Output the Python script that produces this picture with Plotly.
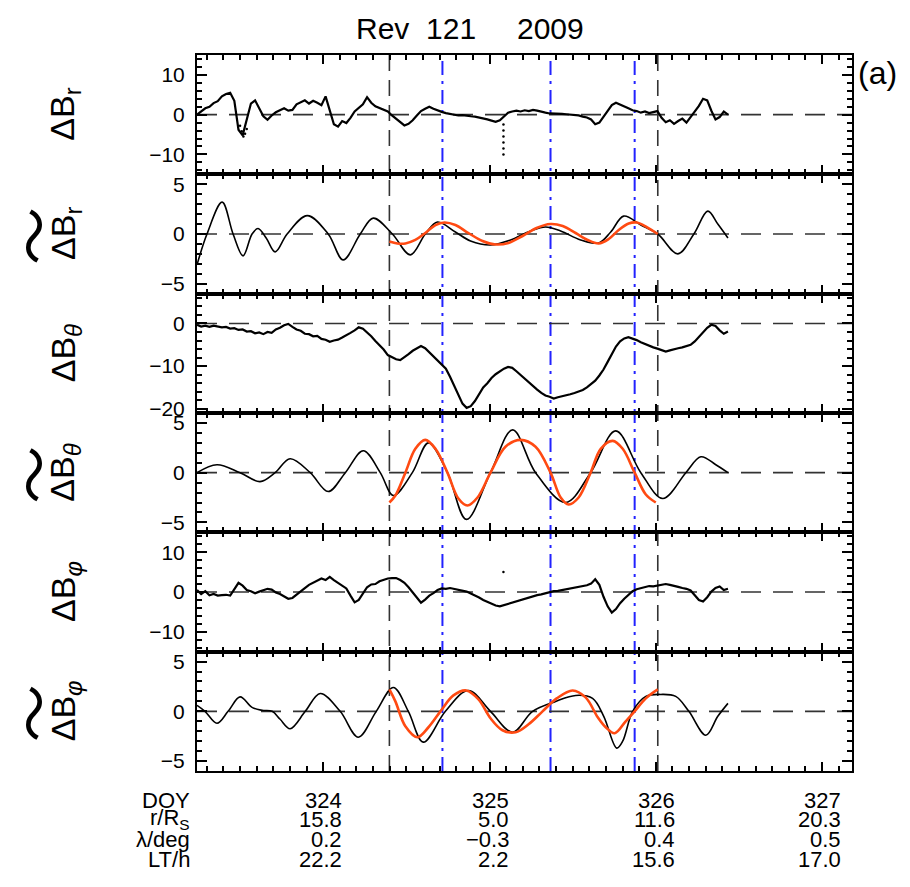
import numpy as np
import plotly.graph_objects as go
from plotly.subplots import make_subplots

# ---------------- data ----------------
x_range = [323.241, 327.18]
doy_ticks = [324, 325, 326, 327]
r_rs = ["15.8", "5.0", "11.6", "20.3"]
lat_deg = ["0.2", "\u22120.3", "0.4", "0.5"]
lt_h = ["22.2", "2.2", "15.6", "17.0"]

# observed (1-min) residual field, uniform time base
obs_start, obs_end, obs_n = 323.241, 326.434, 129
dBr_obs = [0.0, 0.8, 1.6, 2.0, 2.9, 3.4, 4.6, 5.2, 5.5, 3.5,
           -3.8, -5.2, -1.0, 2.8, 3.6, 1.4, -0.4, -1.3, -0.2, 0.6,
           1.2, 1.6, 1.0, 1.2, 2.6, 3.2, 3.6, 2.8, 3.5, 3.0,
           2.4, 4.6, 1.2, -2.4, -3.0, -1.6, -2.1, -0.8, 0.8, 1.6,
           2.6, 4.4, 3.0, 2.1, 1.7, 1.3, 0.8, -0.2, -1.1, -2.0,
           -2.7, -2.3, -1.4, -0.2, 0.9, 1.5, 2.0, 1.5, 1.0, 0.7,
           0.4, 0.2, 0.0, -0.2, -0.1, -0.3, -0.4, -0.5, -0.7, -0.9,
           -1.2, -1.5, -1.8, -1.4, -0.4, 0.5, 0.8, 1.0, 0.8, 1.1,
           0.9, 1.2, 1.0, 0.7, 0.5, 0.3, 0.3, 0.2, 0.2, 0.1,
           0.0, 0.0, -0.2, -0.5, -0.7, -1.2, -2.4, -2.0, -0.6, 0.8,
           2.4, 3.0, 2.6, 2.0, 1.6, 1.1, 0.9, 0.5, 0.8, 0.4,
           0.7, 0.9, -0.8, -1.9, -1.4, -2.3, -1.6, -1.0, -2.0, -0.6,
           0.8, 2.2, 4.0, 3.6, 1.0, -1.2, -0.6, 0.8, 0.0]
dBth_obs = [-0.3, -0.7, -0.5, -0.8, -0.5, -0.7, -0.9, -0.8, -1.2, -1.1,
            -1.5, -1.4, -1.9, -1.8, -2.3, -2.1, -2.5, -2.0, -2.2, -1.4,
            -1.0, -0.4, -0.1, -0.8, -1.4, -1.7, -2.4, -2.5, -3.0, -2.9,
            -3.6, -3.8, -4.3, -4.0, -3.8, -3.3, -2.8, -2.2, -1.6, -0.9,
            -1.2, -2.0, -3.0, -4.1, -5.0, -6.1, -7.4, -8.0, -8.4, -8.6,
            -8.0, -7.2, -6.4, -5.8, -5.3, -5.8, -6.8, -7.8, -8.6, -9.6,
            -10.6, -12.5, -14.6, -16.8, -18.8, -19.8, -19.4, -18.2, -16.5, -15.0,
            -14.0, -12.8, -11.9, -11.2, -10.6, -10.2, -10.4, -11.2, -12.1, -13.0,
            -13.8, -14.6, -15.5, -16.3, -16.9, -17.2, -17.6, -17.3, -17.1, -16.8,
            -16.6, -16.3, -16.0, -15.6, -15.0, -14.2, -13.4, -12.2, -10.8, -9.0,
            -7.2, -5.4, -4.2, -3.5, -3.2, -3.5, -3.9, -4.4, -4.8, -5.3,
            -5.6, -5.9, -6.3, -6.6, -6.3, -6.0, -5.8, -5.6, -5.3, -5.0,
            -4.2, -3.2, -2.2, -1.0, -0.3, -0.6, -1.6, -2.4, -1.9]
dBph_obs = [0.5, -0.5, 0.2, -0.8, -0.5, -0.9, -0.8, -0.7, -0.9, 0.6,
            2.3, 1.6, 0.5, 0.2, -0.3, 0.1, 0.5, 0.8, 0.6, -0.1,
            -0.5, -1.1, -1.7, -1.5, -0.6, 0.1, 1.0, 1.8, 2.4, 2.9,
            3.4, 3.0, 3.8, 3.0, 2.3, 1.7, 0.9, -0.9, -2.6, -2.0,
            -0.3, 1.2, 1.9, 2.0, 2.7, 3.1, 3.4, 3.5, 3.5, 3.0,
            2.3, 1.2, -0.2, -1.6, -2.7, -1.9, -0.9, -0.3, 0.5, 0.9,
            0.8, 1.0, 0.8, 0.5, 0.3, 0.1, -0.4, -0.8, -1.4, -2.0,
            -2.5, -3.0, -3.4, -3.6, -3.3, -2.9, -2.6, -2.3, -2.0, -1.6,
            -1.4, -1.1, -0.8, -0.6, -0.3, 0.0, 0.2, 0.3, 0.5, 0.8,
            1.0, 1.2, 1.4, 1.5, 1.7, 2.1, 3.2, 1.8, -1.2, -3.6,
            -5.2, -4.3, -2.8, -1.7, -0.8, 0.2, 0.7, 1.0, 1.3, 1.5,
            1.4, 1.6, 1.9, 2.0, 1.8, 1.6, 1.3, 1.0, 0.8, 0.4,
            -0.7, -2.0, -2.4, -1.3, 0.1, 1.0, 1.4, 0.5, 0.8]

# isolated scattered samples
spike_r_doy = [323.50, 323.51, 323.52, 323.53, 323.54, 325.084, 325.084, 325.084, 325.084, 325.084, 325.084]
spike_r_val = [-2.8, -4.2, -5.5, -4.8, -3.6, -2.5, -4.0, -5.5, -7.0, -8.5, -10.0]
spike_ph_doy = [325.084]
spike_ph_val = [5.0]

# band-pass filtered residuals (black)
filt_r_doy = [323.241, 323.301, 323.392, 323.458, 323.518, 323.572, 323.608, 323.657, 323.711, 323.783,
              323.904, 324.030, 324.120, 324.223, 324.301, 324.416, 324.524, 324.614, 324.687, 324.795,
              324.886, 325.006, 325.127, 325.247, 325.337, 325.428, 325.548, 325.657, 325.729, 325.807,
              325.910, 326.012, 326.133, 326.229, 326.313, 326.373, 326.434]
filt_r_val = [-3.1, 0.0, 3.2, 0.0, -2.2, 0.0, 0.55, -0.4, -1.8, 0.0,
              1.85, 0.0, -2.6, 0.0, 1.6, 0.0, -2.1, 0.0, 1.2, 0.2,
              -0.7, -1.1, -0.6, 0.3, 0.7, 0.3, -0.6, -0.9, 0.2, 1.8,
              0.9, 0.0, -2.0, 0.0, 2.3, 1.0, -0.4]
filt_th_doy = [323.241, 323.361, 323.500, 323.620, 323.711, 323.801, 323.922, 324.030, 324.133, 324.241,
               324.343, 324.422, 324.536, 324.633, 324.747, 324.861, 325.006, 325.139, 325.277, 325.458,
               325.608, 325.759, 325.910, 326.042, 326.181, 326.271, 326.361, 326.434]
filt_th_val = [0.0, 0.8, 0.0, -0.9, 0.0, 1.4, 0.0, -1.9, 0.0, 2.2,
               0.0, -2.3, 0.0, 3.0, 0.0, -4.7, 0.0, 4.3, 0.0, -3.0,
               0.0, 4.2, 0.0, -2.6, 0.0, 1.6, 0.8, 0.0]
filt_ph_doy = [323.241, 323.289, 323.361, 323.428, 323.500, 323.572, 323.633, 323.693, 323.741, 323.801,
               323.892, 323.982, 324.102, 324.211, 324.319, 324.422, 324.512, 324.602, 324.735, 324.873,
               325.006, 325.139, 325.259, 325.398, 325.518, 325.620, 325.687, 325.765, 325.801, 325.861,
               325.940, 326.030, 326.120, 326.199, 326.301, 326.373, 326.434]
filt_ph_val = [0.6, 0.0, -1.2, 0.0, 1.45, 0.4, 0.1, 0.0, -0.8, -1.75,
               0.0, 1.8, 0.0, -2.6, 0.0, 2.4, 0.0, -3.1, 0.0, 2.1,
               0.0, -2.1, 0.0, 1.0, 1.6, 1.3, -0.5, -3.7, -3.0, 0.0,
               1.5, 1.7, 1.5, 0.0, -2.4, -0.5, 0.8]

# model fits (red)
fit_r_doy = [324.398, 324.446, 324.494, 324.554, 324.614, 324.675, 324.729, 324.795, 324.873, 324.958,
             325.036, 325.114, 325.199, 325.283, 325.367, 325.440, 325.518, 325.590, 325.657, 325.717,
             325.777, 325.837, 325.886, 325.946, 326.012]
fit_r_val = [-0.75, -0.95, -0.95, -0.6, 0.1, 0.9, 1.15, 0.9, 0.1, -0.7,
             -1.05, -0.9, -0.2, 0.6, 1.0, 0.8, 0.1, -0.6, -0.95, -0.5,
             0.4, 1.05, 1.15, 0.7, 0.0]
fit_th_doy = [324.398, 324.434, 324.494, 324.554, 324.614, 324.675, 324.747, 324.813, 324.867, 324.928,
              325.006, 325.096, 325.187, 325.277, 325.367, 325.428, 325.476, 325.536, 325.608, 325.669,
              325.741, 325.801, 325.873, 325.940, 326.000]
fit_th_val = [-3.0, -2.3, 0.0, 2.4, 3.3, 2.4, 0.0, -2.6, -3.3, -2.5,
              0.0, 2.6, 3.3, 2.6, 0.0, -2.5, -3.2, -2.5, 0.0, 2.4,
              3.2, 2.4, 0.0, -2.2, -3.0]
fit_ph_doy = [324.398, 324.434, 324.494, 324.566, 324.633, 324.705, 324.783, 324.861, 324.934, 325.006,
              325.078, 325.157, 325.235, 325.319, 325.404, 325.500, 325.578, 325.651, 325.699, 325.753,
              325.819, 325.873, 325.940, 326.012]
fit_ph_val = [2.2, 1.0, -1.5, -2.6, -1.6, 0.0, 1.6, 2.1, 1.2, -0.7,
              -1.9, -2.1, -1.3, 0.0, 1.3, 2.1, 1.4, -0.6, -1.6, -2.2,
              -1.0, 0.0, 1.3, 2.2]

boundary_doy = [324.398, 326.012]
marker_doy = [324.717, 325.367, 325.873]

y_ranges = [[-15, 15], [-6, 6], [-21, 7], [-6, 6], [-15, 15], [-6, 6]]
y_major = [[-10, 0, 10], [-5, 0, 5], [-20, -10, 0], [-5, 0, 5], [-10, 0, 10], [-5, 0, 5]]
y_minor = [2, 1, 2, 1, 2, 1]
panel_labels = ["\u0394B<sub>r</sub>", "\u0394B<sub>r</sub>", "\u0394B<sub><i>\u03b8</i></sub>",
                "\u0394B<sub><i>\u03b8</i></sub>", "\u0394B<sub><i>\u03c6</i></sub>", "\u0394B<sub><i>\u03c6</i></sub>"]
panel_tilde = [False, True, False, True, False, True]

# ---------------- figure ----------------
FONT = "Liberation Sans, Arial, sans-serif"
NARROW = "Liberation Sans Narrow, Arial Narrow, Liberation Sans, sans-serif"
obs_doy = np.linspace(obs_start, obs_end, obs_n)

fig = make_subplots(rows=6, cols=1, shared_xaxes=True, vertical_spacing=0)

zero_style = dict(color="#333333", width=1.6, dash="20px,12px")
for row in range(1, 7):
    fig.add_trace(go.Scatter(x=x_range, y=[0, 0], mode="lines", line=zero_style,
                             hoverinfo="skip"), row=row, col=1)

obs_line = dict(color="black", width=2.2)
fig.add_trace(go.Scatter(x=obs_doy, y=dBr_obs, mode="lines", line=obs_line), row=1, col=1)
fig.add_trace(go.Scatter(x=spike_r_doy, y=spike_r_val, mode="markers",
                         marker=dict(color="black", size=2.5)), row=1, col=1)
fig.add_trace(go.Scatter(x=obs_doy, y=dBth_obs, mode="lines", line=obs_line), row=3, col=1)
fig.add_trace(go.Scatter(x=obs_doy, y=dBph_obs, mode="lines", line=obs_line), row=5, col=1)
fig.add_trace(go.Scatter(x=spike_ph_doy, y=spike_ph_val, mode="markers",
                         marker=dict(color="black", size=2.5)), row=5, col=1)

filt_line = dict(color="black", width=1.6, shape="spline", smoothing=1.0)
fit_line = dict(color="#ff4a12", width=2.6, shape="spline", smoothing=1.0)
for row, (fx, fy, mx, my) in zip([2, 4, 6], [
        (filt_r_doy, filt_r_val, fit_r_doy, fit_r_val),
        (filt_th_doy, filt_th_val, fit_th_doy, fit_th_val),
        (filt_ph_doy, filt_ph_val, fit_ph_doy, fit_ph_val)]):
    fig.add_trace(go.Scatter(x=fx, y=fy, mode="lines", line=filt_line), row=row, col=1)
    fig.add_trace(go.Scatter(x=mx, y=my, mode="lines", line=fit_line), row=row, col=1)

for row in range(1, 7):
    fig.update_xaxes(row=row, col=1, range=x_range, showline=True, mirror="ticks",
                     linecolor="black", linewidth=2, ticks="inside", ticklen=9,
                     tickwidth=1.5, tickcolor="black", tickvals=doy_ticks,
                     showticklabels=False, showgrid=False, zeroline=False,
                     minor=dict(ticks="inside", ticklen=5, tickwidth=1.5, tickcolor="black",
                                dtick=0.1, tick0=323.0, showgrid=False))
    fig.update_yaxes(row=row, col=1, range=y_ranges[row - 1], showline=True, mirror="ticks",
                     linecolor="black", linewidth=2, ticks="inside", ticklen=10,
                     tickwidth=1.5, tickcolor="black", tickvals=y_major[row - 1],
                     ticktext=[("\u2212" + str(abs(v))) if v < 0 else str(v) for v in y_major[row - 1]],
                     showgrid=False, zeroline=False, ticklabelstandoff=6,
                     tickfont=dict(family=FONT, size=21, color="black"),
                     minor=dict(ticks="inside", ticklen=5, tickwidth=1.5, tickcolor="black",
                                dtick=y_minor[row - 1], tick0=0, showgrid=False))

for d in boundary_doy:
    fig.add_shape(type="line", xref="x", yref="paper", x0=d, x1=d, y0=0, y1=1,
                  line=dict(color="#333333", width=1.6, dash="16px,9px"), layer="below")
for d in marker_doy:
    fig.add_shape(type="line", xref="x", yref="paper", x0=d, x1=d, y0=0, y1=1,
                  line=dict(color="#2222ff", width=2, dash="14px,6px,3px,6px"), layer="below")

annotations = []
for row in range(1, 7):
    yref = "y domain" if row == 1 else f"y{row} domain"
    annotations.append(dict(text=panel_labels[row - 1], xref="paper", x=0, xshift=-132,
                            yref=yref, y=0.5, xanchor="center", yanchor="middle",
                            textangle=-90, showarrow=False,
                            font=dict(family=FONT, size=34, color="black")))
    if panel_tilde[row - 1]:
        annotations.append(dict(text="\u301c", xref="paper", x=0, xshift=-166,
                                yref=yref, y=0.5, yshift=-2, xanchor="center", yanchor="middle",
                                textangle=-90, showarrow=False,
                                font=dict(family="Noto Sans CJK JP", size=58, color="black")))

# title and panel tag
annotations.append(dict(text="Rev  121", xref="paper", yref="paper", x=(416 - 197) / 655, y=1,
                        yshift=27, xanchor="center", yanchor="middle", showarrow=False,
                        font=dict(family=NARROW, size=30, color="black")))
annotations.append(dict(text="2009", xref="paper", yref="paper", x=(550 - 197) / 655, y=1,
                        yshift=27, xanchor="center", yanchor="middle", showarrow=False,
                        font=dict(family=NARROW, size=30, color="black")))
annotations.append(dict(text="(a)", xref="paper", yref="paper", x=1, xshift=4, y=1, yshift=-18,
                        xanchor="left", yanchor="middle", showarrow=False,
                        font=dict(family=FONT, size=32, color="black")))

# ephemeris table under the axis
row_names = ["DOY", "r/R<sub>S</sub>", "\u03bb/deg", "LT/h"]
row_shift = [-29, -48, -68, -88]
for name, ys in zip(row_names, row_shift):
    annotations.append(dict(text=name, xref="paper", yref="paper", x=0, xshift=-5, y=0, yshift=ys,
                            xanchor="right", yanchor="middle", showarrow=False,
                            font=dict(family=NARROW, size=22, color="black")))
for j, d in enumerate(doy_ticks):
    for vals, ys in zip([[str(v) for v in doy_ticks], r_rs, lat_deg, lt_h], row_shift):
        annotations.append(dict(text=vals[j], xref="x6", x=d, xshift=21, yref="paper", y=0,
                                yshift=ys, xanchor="right", yanchor="middle", showarrow=False,
                                font=dict(family=NARROW, size=22, color="black")))

fig.update_layout(width=910, height=887, margin=dict(l=197, r=58, t=55, b=116),
                  paper_bgcolor="white", plot_bgcolor="white", showlegend=False,
                  annotations=annotations)

fig.write_html("out.html")
